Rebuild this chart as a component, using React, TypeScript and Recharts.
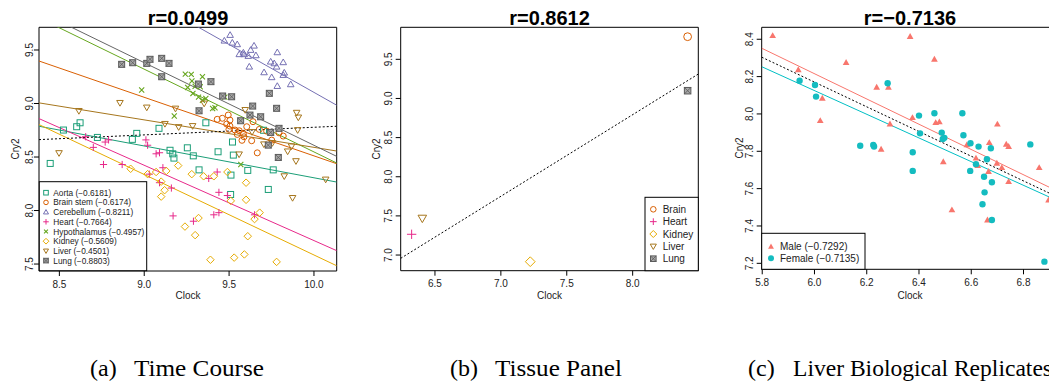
import { ScatterChart, Scatter, XAxis, YAxis, ReferenceLine, ReferenceArea } from "recharts";

type Pt = [number, number];

// ---------- (a) Time Course ----------
const aorta: Pt[] = [
  [8.446, 8.44], [8.524, 8.752], [8.602, 8.783], [8.622, 8.82], [8.724, 8.683], [8.93, 8.665],
  [8.956, 8.721], [9.087, 8.768], [9.152, 8.563], [9.168, 8.53], [9.175, 8.49], [9.254, 8.586],
  [9.289, 8.511], [9.323, 8.38], [9.363, 8.82], [9.435, 8.549], [9.511, 8.331], [9.509, 8.15],
  [9.525, 8.518], [9.52, 8.64], [9.61, 8.375], [9.703, 8.75], [9.731, 8.197], [9.76, 8.38],
];
const brainStem: Pt[] = [
  [9.43, 8.852], [9.46, 8.862], [9.495, 8.892], [9.505, 8.845], [9.486, 8.808], [9.505, 8.789],
  [9.499, 8.758], [9.535, 8.752], [9.56, 8.745], [9.548, 8.711], [9.584, 8.72], [9.588, 8.689],
  [9.604, 8.783], [9.633, 8.652], [9.666, 8.539], [9.678, 8.758], [9.721, 8.742], [9.794, 8.726],
  [9.819, 8.696], [9.641, 8.83], [9.751, 8.658], [9.576, 8.656],
];
const cerebellum: Pt[] = [
  [9.506, 9.64], [9.472, 9.587], [9.519, 9.568], [9.548, 9.553], [9.647, 9.54], [9.627, 9.5],
  [9.584, 9.475], [9.56, 9.46], [9.589, 9.46], [9.613, 9.444], [9.658, 9.45], [9.619, 9.344],
  [9.784, 9.478], [9.745, 9.391], [9.766, 9.375], [9.78, 9.344], [9.819, 9.385], [9.706, 9.291],
  [9.751, 9.245], [9.825, 9.288], [9.819, 9.266], [9.784, 9.163], [9.863, 9.179],
];
const heart: Pt[] = [
  [8.655, 8.69], [8.7, 8.59], [8.76, 8.43], [8.77, 8.64], [8.79, 8.66], [8.87, 8.43],
  [9.01, 8.66], [9.02, 8.61], [9.03, 8.34], [9.07, 8.53], [9.09, 8.54], [9.09, 8.26],
  [9.11, 8.4], [9.16, 8.21], [9.17, 7.95], [9.29, 7.9], [9.38, 8.3], [9.41, 7.96],
  [9.43, 8.36], [9.44, 8.17], [9.44, 7.98], [9.49, 8.14], [9.65, 7.96],
];
const hypothalamus: Pt[] = [
  [9.242, 9.275], [9.277, 9.272], [9.343, 9.25], [9.281, 9.21], [9.256, 9.15], [9.3, 9.16],
  [9.33, 9.156], [9.287, 9.094], [9.32, 9.06], [9.343, 9.03], [9.363, 9.047], [9.403, 8.953],
  [9.417, 8.96], [9.475, 9.06], [8.985, 9.126], [9.177, 8.883], [9.569, 8.43],
];
const kidney: Pt[] = [
  [8.92, 8.39], [9.02, 8.34], [9.07, 8.36], [9.13, 8.37], [9.1, 8.27], [9.12, 8.19],
  [9.1, 8.13], [9.2, 8.42], [9.24, 7.85], [9.28, 8.34], [9.3, 7.77], [9.32, 7.93],
  [9.35, 8.32], [9.39, 7.54], [9.41, 8.32], [9.49, 8.36], [9.51, 8.09], [9.53, 7.56],
  [9.59, 7.59], [9.6, 8.26], [9.6, 8.1], [9.61, 7.76], [9.65, 7.92], [9.68, 7.98], [9.78, 7.52],
];
const liver: Pt[] = [
  [8.498, 8.537], [8.615, 8.931], [8.857, 9.006], [9.015, 8.963], [9.122, 8.81], [9.184, 8.953],
  [9.203, 8.78], [9.285, 8.79], [9.353, 9.0], [9.559, 8.525], [9.595, 8.94], [9.635, 8.734],
  [9.705, 8.619], [9.755, 8.631], [9.825, 8.321], [9.874, 8.118], [9.845, 8.553], [9.868, 8.6],
  [9.898, 8.914], [9.908, 8.87], [9.894, 8.462], [9.904, 8.752], [10.069, 8.29],
];
const lung: Pt[] = [
  [8.867, 9.366], [8.932, 9.381], [9.015, 9.375], [9.034, 9.413], [9.103, 9.422], [9.146, 9.375],
  [9.103, 9.25], [9.319, 9.182], [9.393, 9.204], [9.323, 8.932], [9.462, 9.07], [9.515, 9.063],
  [9.568, 8.839], [9.639, 8.976], [9.623, 8.892], [9.686, 8.876], [9.737, 9.095], [9.78, 8.955],
  [9.794, 8.768], [9.745, 8.73], [9.731, 8.611], [9.79, 8.496],
];

// fitted lines, read at the plot edges
const aortaFit: [Pt, Pt] = [[8.38, 8.7875], [10.134, 8.266]];
const brainStemFit: [Pt, Pt] = [[8.38, 9.397], [10.134, 8.4375]];
const cerebellumFit: [Pt, Pt] = [[8.38, 10.553], [10.134, 8.984]];
const heartFit: [Pt, Pt] = [[8.38, 8.859], [10.134, 7.625]];
const hypothalamusFit: [Pt, Pt] = [[8.38, 9.8], [10.134, 8.444]];
const kidneyFit: [Pt, Pt] = [[8.38, 8.803], [10.134, 7.484]];
const liverFit: [Pt, Pt] = [[8.38, 9.006], [10.134, 8.556]];
const lungFit: [Pt, Pt] = [[8.38, 9.86], [10.134, 8.506]];
const allFitA: [Pt, Pt] = [[8.38, 8.6625], [10.134, 8.7875]];

const tissuesA = ["Aorta", "Brain stem", "Cerebellum", "Heart", "Hypothalamus", "Kidney", "Liver", "Lung"];
const corrA = ["−0.6181", "−0.6174", "−0.8211", "−0.7664", "−0.4957", "−0.5609", "−0.4501", "−0.8803"];
const xTicksA = [8.5, 9.0, 9.5, 10.0];
const yTicksA = [7.5, 8.0, 8.5, 9.0, 9.5];

// ---------- (b) Tissue Panel ----------
const tissuesB = ["Brain", "Heart", "Kidney", "Liver", "Lung"];
const clockB = [8.417, 6.323, 7.223, 6.404, 8.417];
const cry2B = [9.789, 7.265, 6.915, 7.469, 9.099];
const allFitB: [Pt, Pt] = [[6.24, 6.958], [8.498, 9.312]];
const xTicksB = [6.5, 7.0, 7.5, 8.0];
const yTicksB = [7.0, 7.5, 8.0, 8.5, 9.0, 9.5];

// ---------- (c) Liver Biological Replicates ----------
const male: Pt[] = [
  [5.84, 8.419], [5.938, 8.236], [6.03, 8.084], [6.022, 7.964], [6.121, 8.275], [6.238, 8.143],
  [6.283, 8.143], [6.289, 7.946], [6.255, 7.811], [6.366, 8.414], [6.459, 8.293], [6.375, 7.98],
  [6.464, 7.953], [6.478, 7.957], [6.7, 7.945], [6.669, 7.846], [6.583, 7.834], [6.734, 7.837],
  [6.743, 7.825], [6.493, 7.744], [6.618, 7.763], [6.625, 7.723], [6.698, 7.736], [6.717, 7.712],
  [6.666, 7.691], [6.743, 7.637], [6.86, 7.712], [6.896, 7.539], [6.526, 7.486], [6.662, 7.432],
];
const female: Pt[] = [
  [5.943, 8.178], [6.002, 8.155], [6.006, 8.093], [6.28, 8.164], [6.175, 7.83], [6.225, 7.834],
  [6.228, 7.826], [6.4, 7.991], [6.459, 8.004], [6.566, 8.004], [6.404, 7.896], [6.487, 7.9],
  [6.491, 7.866], [6.497, 7.872], [6.57, 7.886], [6.597, 7.843], [6.628, 7.825], [6.675, 7.816],
  [6.826, 7.837], [6.376, 7.795], [6.376, 7.695], [6.596, 7.695], [6.618, 7.731], [6.66, 7.757],
  [6.649, 7.664], [6.679, 7.634], [6.651, 7.58], [6.643, 7.516], [6.679, 7.432], [6.88, 7.209],
];
const maleFit: [Pt, Pt] = [[5.798, 8.352], [6.932, 7.585]];
const femaleFit: [Pt, Pt] = [[5.798, 8.253], [6.932, 7.534]];
const allFitC: [Pt, Pt] = [[5.798, 8.304], [6.932, 7.554]];
const xTicksC = [5.8, 6.0, 6.2, 6.4, 6.6, 6.8];
const yTicksC = [7.2, 7.4, 7.6, 7.8, 8.0, 8.2, 8.4];

const SANS = "'Liberation Sans', Arial, Helvetica, sans-serif";
const SERIF = "'Liberation Serif', 'Times New Roman', serif";

const colorsA = ["#1B9E77", "#D95F02", "#7570B3", "#E7298A", "#66A61E", "#E6AB02", "#A6761D", "#666666"];
const kindsA = ["square", "circle", "tri", "plus", "cross", "diamond", "triDown", "lung"];

function Mark({ cx, cy, kind, color, s }: any) {
  const h = s / 2;
  switch (kind) {
    case "square":
      return <rect x={cx - h} y={cy - h} width={s} height={s} fill="none" stroke={color} strokeWidth={1} />;
    case "circle":
      return <circle cx={cx} cy={cy} r={h} fill="none" stroke={color} strokeWidth={1} />;
    case "tri":
      return <polygon points={`${cx},${cy - h * 1.1} ${cx + h * 1.1},${cy + h * 0.8} ${cx - h * 1.1},${cy + h * 0.8}`} fill="none" stroke={color} strokeWidth={1} />;
    case "triDown":
      return <polygon points={`${cx},${cy + h * 1.1} ${cx + h * 1.1},${cy - h * 0.8} ${cx - h * 1.1},${cy - h * 0.8}`} fill="none" stroke={color} strokeWidth={1} />;
    case "plus":
      return <path d={`M${cx - h * 1.2},${cy}H${cx + h * 1.2}M${cx},${cy - h * 1.2}V${cy + h * 1.2}`} stroke={color} strokeWidth={1} />;
    case "cross":
      return <path d={`M${cx - h * 0.85},${cy - h * 0.85}L${cx + h * 0.85},${cy + h * 0.85}M${cx - h * 0.85},${cy + h * 0.85}L${cx + h * 0.85},${cy - h * 0.85}`} stroke={color} strokeWidth={1.1} />;
    case "diamond":
      return <polygon points={`${cx},${cy - h * 1.25} ${cx + h * 1.25},${cy} ${cx},${cy + h * 1.25} ${cx - h * 1.25},${cy}`} fill="none" stroke={color} strokeWidth={1} />;
    case "lung":
      return (
        <g>
          <rect x={cx - h} y={cy - h} width={s} height={s} fill="#a8a8a8" stroke="#5a5a5a" strokeWidth={1} />
          <path d={`M${cx - h},${cy - h}L${cx + h},${cy + h}M${cx - h},${cy + h}L${cx + h},${cy - h}`} stroke="#5a5a5a" strokeWidth={0.8} />
        </g>
      );
    case "triFill":
      return <polygon points={`${cx},${cy - h * 1.1} ${cx + h * 1.05},${cy + h * 0.75} ${cx - h * 1.05},${cy + h * 0.75}`} fill={color} />;
    case "dot":
      return <circle cx={cx} cy={cy} r={h} fill={color} />;
    default:
      return null;
  }
}

const XTick = ({ x, y, payload }: any) => (
  <text x={x} y={y + 11.6} textAnchor="middle" fontSize={10} fill="#222" fontFamily={SANS}>
    {payload.value.toFixed(1)}
  </text>
);

const makeYTick = (off: number) => ({ x, y, payload }: any) => {
  const bx = x + 5 - off + 3.6;
  return (
    <text x={bx} y={y} textAnchor="middle" fontSize={10} fill="#222" fontFamily={SANS} transform={`rotate(-90 ${bx} ${y})`}>
      {payload.value.toFixed(1)}
    </text>
  );
};

const toObj = (pts: Pt[]) => pts.map(([x, y]) => ({ x, y }));
const seg = (f: [Pt, Pt]) => [{ x: f[0][0], y: f[0][1] }, { x: f[1][0], y: f[1][1] }];

export default function App() {
  const seriesA = [aorta, brainStem, cerebellum, heart, hypothalamus, kidney, liver, lung];
  const fitsA = [aortaFit, brainStemFit, cerebellumFit, heartFit, hypothalamusFit, kidneyFit, liverFit, lungFit];
  const kindsB = ["circle", "plus", "diamond", "triDown", "lung"];
  const colorsB = ["#D95F02", "#E7298A", "#E6AB02", "#A6761D", "#666666"];

  const xdA: [number, number] = [8.38, 10.134];
  const ydA: [number, number] = [7.435, 9.712];
  const xdB: [number, number] = [6.24, 8.498];
  const ydB: [number, number] = [6.8, 9.909];
  const xdC: [number, number] = [5.798, 6.932];
  const ydC: [number, number] = [7.168, 8.464];

  const axisProps = { stroke: "#000", axisLine: false, tickSize: 5, tickMargin: 0, interval: 0 as const, allowDataOverflow: true };

  return (
    <div style={{ position: "absolute", left: 0, top: 0, width: 1049, height: 385, overflow: "hidden", background: "#fff" }}>
      {/* (a) */}
      <div style={{ position: "absolute", left: 0, top: 0 }}>
        <ScatterChart width={350} height={300} margin={{ top: 27.3, right: 13.3, left: 9, bottom: 4 }}>
          <XAxis type="number" dataKey="x" domain={xdA} ticks={xTicksA} height={25} tick={<XTick />} {...axisProps} />
          <YAxis type="number" dataKey="y" domain={ydA} ticks={yTicksA} width={30} tick={makeYTick(9.8)} {...axisProps} />
          {fitsA.map((f, i) => (
            <ReferenceLine key={"f" + i} segment={seg(f)} stroke={colorsA[i]} strokeWidth={1} ifOverflow="hidden" />
          ))}
          <ReferenceLine segment={seg(allFitA)} stroke="#000" strokeWidth={1} strokeDasharray="2 2" ifOverflow="hidden" />
          {seriesA.map((pts, i) => (
            <Scatter
              key={tissuesA[i]}
              data={toObj(pts)}
              isAnimationActive={false}
              shape={(p: any) => <Mark cx={p.cx} cy={p.cy} kind={kindsA[i]} color={colorsA[i]} s={6} />}
            />
          ))}
          <ReferenceArea x1={xdA[0]} x2={xdA[1]} y1={ydA[0]} y2={ydA[1]} fill="none" stroke="#000" strokeWidth={1} ifOverflow="visible" />
        </ScatterChart>
      </div>

      {/* (b) */}
      <div style={{ position: "absolute", left: 350, top: 0 }}>
        <ScatterChart width={370} height={300} margin={{ top: 27.3, right: 21.7, left: 20.7, bottom: 4.3 }}>
          <XAxis type="number" dataKey="x" domain={xdB} ticks={xTicksB} height={25} tick={<XTick />} {...axisProps} />
          <YAxis type="number" dataKey="y" domain={ydB} ticks={yTicksB} width={30} tick={makeYTick(12.5)} {...axisProps} />
          <ReferenceLine segment={seg(allFitB)} stroke="#000" strokeWidth={1} strokeDasharray="2 2" ifOverflow="hidden" />
          {tissuesB.map((t, i) => (
            <Scatter
              key={t}
              data={[{ x: clockB[i], y: cry2B[i] }]}
              isAnimationActive={false}
              shape={(p: any) => <Mark cx={p.cx} cy={p.cy} kind={kindsB[i]} color={colorsB[i]} s={kindsB[i] === "lung" ? 6.5 : 7.8} />}
            />
          ))}
          <ReferenceArea x1={xdB[0]} x2={xdB[1]} y1={ydB[0]} y2={ydB[1]} fill="none" stroke="#000" strokeWidth={1} ifOverflow="visible" />
        </ScatterChart>
      </div>

      {/* (c) */}
      <div style={{ position: "absolute", left: 700, top: 0 }}>
        <ScatterChart width={370} height={300} margin={{ top: 27.3, right: 12, left: 31.7, bottom: 5.7 }}>
          <XAxis type="number" dataKey="x" domain={xdC} ticks={xTicksC} height={25} tick={<XTick />} {...axisProps} />
          <YAxis type="number" dataKey="y" domain={ydC} ticks={yTicksC} width={30} tick={makeYTick(12.5)} {...axisProps} />
          <ReferenceLine segment={seg(maleFit)} stroke="#F8766D" strokeWidth={1} ifOverflow="hidden" />
          <ReferenceLine segment={seg(femaleFit)} stroke="#00BFC4" strokeWidth={1} ifOverflow="hidden" />
          <ReferenceLine segment={seg(allFitC)} stroke="#000" strokeWidth={1} strokeDasharray="2 2" ifOverflow="hidden" />
          <Scatter data={toObj(male)} isAnimationActive={false} shape={(p: any) => <Mark cx={p.cx} cy={p.cy} kind="triFill" color="#F8766D" s={6.4} />} />
          <Scatter data={toObj(female)} isAnimationActive={false} shape={(p: any) => <Mark cx={p.cx} cy={p.cy} kind="dot" color="#14BCC0" s={6.4} />} />
          <ReferenceArea x1={xdC[0]} x2={xdC[1]} y1={ydC[0]} y2={ydC[1]} fill="none" stroke="#000" strokeWidth={1} ifOverflow="visible" />
        </ScatterChart>
      </div>

      {/* titles, axis names, legends, captions */}
      <svg width={1049} height={385} style={{ position: "absolute", left: 0, top: 0, pointerEvents: "none" }}>
        <g fontFamily={SANS} fill="#000">
          <text x={188} y={25} textAnchor="middle" fontSize={20} fontWeight="bold">r=0.0499</text>
          <text x={549.5} y={25} textAnchor="middle" fontSize={20} fontWeight="bold">r=0.8612</text>
          <text x={910} y={25} textAnchor="middle" fontSize={20} fontWeight="bold">r=−0.7136</text>
        </g>
        <g fontFamily={SANS} fill="#222" fontSize={10}>
          <text x={188} y={299} textAnchor="middle">Clock</text>
          <text x={549.5} y={299} textAnchor="middle">Clock</text>
          <text x={910} y={299} textAnchor="middle">Clock</text>
          <text x={18.6} y={149} textAnchor="middle" transform="rotate(-90 18.6 149)">Cry2</text>
          <text x={379.6} y={149} textAnchor="middle" transform="rotate(-90 379.6 149)">Cry2</text>
          <text x={742.9} y={148} textAnchor="middle" transform="rotate(-90 742.9 148)">Cry2</text>
        </g>

        {/* legend (a) */}
        <rect x={39.3} y={181.7} width={107.4} height={89} fill="#fff" stroke="#000" strokeWidth={1} />
        {tissuesA.map((t, i) => {
          const cy = 192.7 + i * 9.7;
          return (
            <g key={t}>
              <Mark cx={46} cy={cy} kind={kindsA[i]} color={colorsA[i]} s={4.6} />
              <text x={53.3} y={cy + 3} fontSize={8.3} fontFamily={SANS} fill="#222">{`${t} (${corrA[i]})`}</text>
            </g>
          );
        })}

        {/* legend (b) */}
        <rect x={645} y={197.3} width={53.3} height={73.4} fill="#fff" stroke="#000" strokeWidth={1} />
        {tissuesB.map((t, i) => {
          const cy = 209.3 + i * 12.35;
          return (
            <g key={t}>
              <Mark cx={653.3} cy={cy} kind={kindsB[i]} color={colorsB[i]} s={5.6} />
              <text x={662.7} y={cy + 3.6} fontSize={10} fontFamily={SANS} fill="#222">{t}</text>
            </g>
          );
        })}

        {/* legend (c) */}
        <rect x={761.7} y={233.3} width={103.3} height={36} fill="#fff" stroke="#000" strokeWidth={1} />
        <Mark cx={771} cy={246.7} kind="triFill" color="#F8766D" s={5.6} />
        <text x={780} y={250.3} fontSize={10} fontFamily={SANS} fill="#222">Male (−0.7292)</text>
        <Mark cx={771} cy={258.3} kind="dot" color="#14BCC0" s={6} />
        <text x={780} y={261.9} fontSize={10} fontFamily={SANS} fill="#222">Female (−0.7135)</text>

        {/* captions */}
        <g fontFamily={SERIF} fontSize={24} fill="#000">
          <text x={90} y={376}>(a)</text>
          <text x={134} y={376} textLength={130} lengthAdjust="spacingAndGlyphs">Time Course</text>
          <text x={450} y={376}>(b)</text>
          <text x={495} y={376} textLength={127} lengthAdjust="spacingAndGlyphs">Tissue Panel</text>
          <text x={748} y={376}>(c)</text>
          <text x={793} y={376} textLength={259} lengthAdjust="spacingAndGlyphs">Liver Biological Replicates</text>
        </g>
      </svg>
    </div>
  );
}
